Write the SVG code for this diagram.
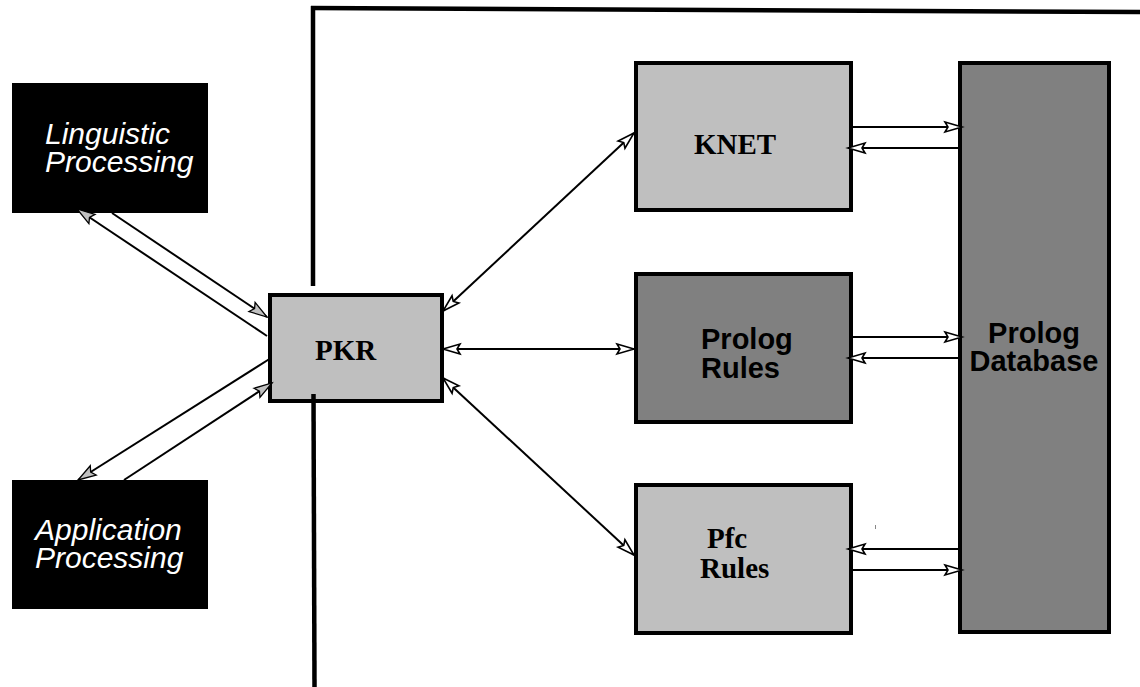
<svg xmlns="http://www.w3.org/2000/svg" width="1140" height="687" viewBox="0 0 1140 687">
<defs>
<style>
.box{stroke:#000;stroke-width:4}
.light{fill:#bfbfbf}
.dark{fill:#808080}
.black{fill:#000}
.wt{font-family:"Liberation Sans",Arial,sans-serif;font-style:italic;font-size:30px;fill:#fff}
.serif{font-family:"Liberation Serif","Times New Roman",serif;font-weight:bold;font-size:29px;fill:#000}
.sans{font-family:"Liberation Sans",Arial,sans-serif;font-weight:bold;font-size:29px;fill:#000}
.conn{stroke:#000;stroke-width:2;fill:none}
.frame{stroke:#000;stroke-width:4.5;fill:none}
</style>
<marker id="ag" markerUnits="userSpaceOnUse" markerWidth="20" markerHeight="14" refX="18" refY="6" orient="auto-start-reverse" overflow="visible">
<path d="M0,0.5 L18,6 L0,11.5 L3,6 z" fill="#c0c0c0" stroke="#000" stroke-width="1.3"/>
</marker>
<marker id="aw" markerUnits="userSpaceOnUse" markerWidth="20" markerHeight="12" refX="17" refY="5.5" orient="auto-start-reverse" overflow="visible">
<path d="M0,0.5 L17,5.5 L0,10.5 L3,5.5 z" fill="#fff" stroke="#000" stroke-width="1.6"/>
</marker>
</defs>
<rect width="1140" height="687" fill="#fff"/>

<g id="frame">
<line class="frame" x1="311" y1="8" x2="1140" y2="12"/>
<line class="frame" x1="313" y1="6" x2="313" y2="286"/>
</g>

<g id="linguistic">
<rect class="black" x="12" y="83" width="196" height="130"/>
<text class="wt" x="45" y="144">Linguistic</text>
<text class="wt" x="45" y="172">Processing</text>
</g>

<g id="application">
<rect class="black" x="12" y="480" width="196" height="129"/>
<text class="wt" x="35" y="540">Application</text>
<text class="wt" x="35" y="568">Processing</text>
</g>

<g id="pkr">
<rect class="box light" x="270" y="295" width="172" height="106"/>
<text class="serif" x="315" y="360">PKR</text>
</g>

<g id="frame-lower">
<line class="frame" x1="313.5" y1="394" x2="314.5" y2="687"/>
</g>

<g id="knet">
<rect class="box light" x="636" y="63" width="215" height="147"/>
<text class="serif" x="694" y="154">KNET</text>
</g>

<g id="prolog-rules">
<rect class="box dark" x="636" y="274" width="215" height="148"/>
<text class="sans" x="701" y="349">Prolog</text>
<text class="sans" x="701" y="378">Rules</text>
</g>

<g id="pfc-rules">
<rect class="box light" x="636" y="485" width="215" height="148"/>
<text class="serif" x="707" y="548" font-size="30">Pfc</text>
<text class="serif" x="700" y="578" font-size="30">Rules</text>
</g>

<g id="prolog-database">
<rect class="box dark" x="960" y="63" width="149" height="569"/>
<text class="sans" x="1034" y="343" text-anchor="middle">Prolog</text>
<text class="sans" x="1034" y="371" text-anchor="middle">Database</text>
</g>

<g id="connectors">
<line class="conn" x1="267" y1="336" x2="77" y2="209" marker-end="url(#ag)"/>
<line class="conn" x1="112" y1="213" x2="267" y2="317" marker-end="url(#ag)"/>
<line class="conn" x1="271" y1="358" x2="78" y2="480" marker-end="url(#ag)"/>
<line class="conn" x1="124" y1="480" x2="272" y2="383" marker-end="url(#ag)"/>

<line class="conn" x1="443" y1="311" x2="634" y2="133" marker-start="url(#aw)" marker-end="url(#aw)"/>
<line class="conn" x1="443" y1="349" x2="634" y2="349" marker-start="url(#aw)" marker-end="url(#aw)"/>
<line class="conn" x1="443" y1="378" x2="634" y2="555" marker-start="url(#aw)" marker-end="url(#aw)"/>

<line class="conn" x1="852" y1="127" x2="962" y2="127" marker-end="url(#aw)"/>
<line class="conn" x1="958" y1="148" x2="848" y2="148" marker-end="url(#aw)"/>
<line class="conn" x1="852" y1="337" x2="962" y2="337" marker-end="url(#aw)"/>
<line class="conn" x1="958" y1="358" x2="848" y2="358" marker-end="url(#aw)"/>
<line class="conn" x1="958" y1="549" x2="848" y2="549" marker-end="url(#aw)"/>
<line class="conn" x1="852" y1="570" x2="962" y2="570" marker-end="url(#aw)"/>
</g>

<line x1="875.5" y1="525" x2="875.5" y2="529" stroke="#888" stroke-width="1"/>
</svg>
